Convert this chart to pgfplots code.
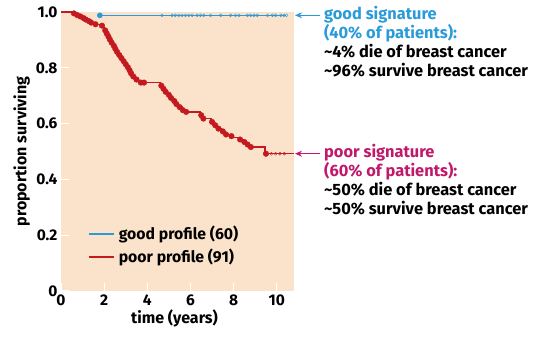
\documentclass[border=0pt]{standalone}
\usepackage{pgfplots}
\pgfplotsset{compat=1.18}
\usepackage{fontspec}
\setmainfont{Fira Sans}
\usetikzlibrary{arrows.meta}
\definecolor{bg}{HTML}{FBE3CB}
\definecolor{goodblue}{HTML}{2A9BD8}
\definecolor{poorred}{HTML}{C41A1F}
\definecolor{poormag}{HTML}{C0196C}
\newcommand{\tf}{\bfseries\fontsize{16.4}{18}\selectfont}
\begin{document}
\begin{tikzpicture}
\useasboundingbox (-61pt,-59pt) rectangle (472pt,291pt);
\begin{axis}[
  at={(0pt,0pt)}, anchor=south west,
  scale only axis, width=233pt, height=279pt,
  xmin=0, xmax=10.8, ymin=0, ymax=1,
  clip=false,
  axis background/.style={fill=bg},
  axis line style={draw=none},
  xtick={0,2,4,6,8,10}, ytick={0,0.2,0.4,0.6,0.8,1.0},
  yticklabels={0,0.2,0.4,0.6,0.8,1.0},
  xtick pos=bottom, ytick pos=left,
  tick align=inside,
  major tick length=8pt,
  tick style={white, line width=1.2pt},
  /pgf/number format/assume math mode=true,
  ticklabel style={font=\bfseries\fontsize{15.5}{17}\selectfont},
  xlabel={time (years)}, ylabel={proportion surviving},
  label style={font=\bfseries\fontsize{16}{18}\selectfont},
  xlabel style={yshift=3pt, xshift=-3pt},
  ylabel style={yshift=-1pt},
  legend style={at={(0.103,0.247)}, anchor=north west, draw=none, fill=none,
    font=\bfseries\fontsize{15.8}{18}\selectfont, row sep=4pt,
    nodes={inner xsep=4pt}},
  legend cell align=left,
  legend image code/.code={\draw[line width=1.6pt] (0pt,0pt) -- (25pt,0pt);},
]
\addlegendimage{goodblue}
\addlegendentry{good profile (60)}
\addlegendimage{poorred}
\addlegendentry{poor profile (91)}
\addplot[goodblue, line width=1.3pt, forget plot] coordinates {(1.78,0.988) (10.45,0.988)};
\addplot[poorred, line width=1.4pt, const plot, forget plot] table {
x y
0 1.0
0.55 0.995
0.7 0.989
0.85 0.984
1.0 0.978
1.1 0.973
1.25 0.967
1.35 0.962
1.45 0.956
1.85 0.951
1.95 0.945
2.0 0.934
2.1 0.923
2.15 0.912
2.25 0.901
2.3 0.890
2.4 0.879
2.5 0.868
2.55 0.857
2.65 0.846
2.75 0.835
2.85 0.824
2.95 0.813
3.05 0.802
3.15 0.791
3.2 0.780
3.3 0.769
3.45 0.758
3.6 0.747
4.6 0.736
4.7 0.725
4.8 0.714
4.95 0.703
5.05 0.692
5.2 0.681
5.3 0.670
5.45 0.659
5.6 0.648
5.75 0.642
6.45 0.630
6.55 0.618
6.95 0.606
7.1 0.594
7.25 0.582
7.45 0.572
7.6 0.561
7.85 0.555
8.0 0.550
8.25 0.543
8.45 0.534
8.6 0.525
8.75 0.516
9.45 0.492
10.8 0.492
};
% censor marks, poor profile
\addplot[only marks, poorred, mark=*, mark size=2.8pt, forget plot] table {
x y
0.6 0.995
0.75 0.989
0.9 0.984
1.05 0.978
1.15 0.973
1.3 0.967
1.4 0.962
1.6 0.956
1.9 0.951
2.05 0.934
2.12 0.923
2.2 0.912
2.27 0.901
2.35 0.890
2.45 0.879
2.52 0.868
2.6 0.857
2.7 0.846
2.8 0.835
2.9 0.824
3.0 0.813
3.1 0.802
3.18 0.791
3.25 0.780
3.35 0.769
3.5 0.758
3.7 0.747
3.85 0.747
4.65 0.736
4.75 0.725
4.85 0.714
5.0 0.703
5.1 0.692
5.25 0.681
5.35 0.670
5.5 0.659
5.65 0.648
5.8 0.642
6.5 0.630
6.6 0.618
7.0 0.606
7.15 0.594
7.3 0.582
7.5 0.572
7.65 0.561
7.9 0.555
8.3 0.543
8.5 0.534
8.65 0.525
8.8 0.516
9.5 0.492
};
\addplot[only marks, poorred, mark=o, mark size=1.5pt, forget plot] coordinates {
(9.75,0.492) (9.95,0.492) (10.15,0.492) (10.35,0.492)};
% censor marks, good profile
\addplot[only marks, goodblue, mark=o, mark size=1.5pt, forget plot] coordinates {
(4.68,0.988) (5.15,0.988) (5.30,0.988) (5.46,0.988) (5.61,0.988) (5.77,0.988)
(5.92,0.988) (6.08,0.988) (6.31,0.988) (6.47,0.988) (6.62,0.988) (6.93,0.988)
(7.40,0.988) (7.86,0.988) (8.09,0.988) (8.25,0.988) (8.64,0.988) (8.79,0.988)
(8.95,0.988) (9.10,0.988) (9.57,0.988) (9.80,0.988) (9.95,0.988) (10.19,0.988)
(10.34,0.988) (10.45,0.988)};
\addplot[only marks, goodblue, mark=*, mark size=2.6pt, forget plot] coordinates {(1.8,0.988)};
\end{axis}
% annotations
\draw[goodblue, line width=1.2pt, -{Stealth[length=7pt,width=6pt]}] (259pt,275.7pt) -- (234pt,275.7pt);
\draw[poormag, line width=1.2pt, -{Stealth[length=7pt,width=6pt]}] (259pt,137.3pt) -- (234pt,137.3pt);
\node[anchor=base west, inner sep=0pt, text=goodblue, font=\tf] at (263pt,271pt) {good signature};
\node[anchor=base west, inner sep=0pt, text=goodblue, font=\tf] at (263pt,252pt) {(40\% of patients):};
\node[anchor=base west, inner sep=0pt, font=\tf] at (263pt,233pt) {\char`~4\% die of breast cancer};
\node[anchor=base west, inner sep=0pt, font=\tf] at (263pt,214pt) {\char`~96\% survive breast cancer};
\node[anchor=base west, inner sep=0pt, text=poormag, font=\tf] at (263pt,133pt) {poor signature};
\node[anchor=base west, inner sep=0pt, text=poormag, font=\tf] at (263pt,114pt) {(60\% of patients):};
\node[anchor=base west, inner sep=0pt, font=\tf] at (263pt,95pt) {\char`~50\% die of breast cancer};
\node[anchor=base west, inner sep=0pt, font=\tf] at (263pt,76pt) {\char`~50\% survive breast cancer};
\end{tikzpicture}
\end{document}
